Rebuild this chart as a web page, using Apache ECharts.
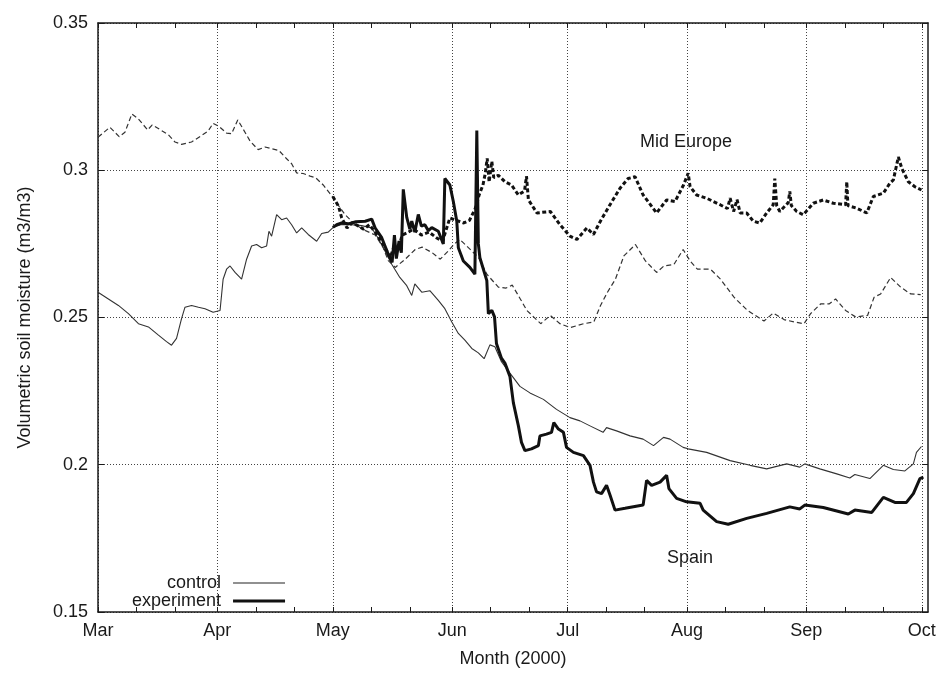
<!DOCTYPE html>
<html>
<head>
<meta charset="utf-8">
<style>
html,body{margin:0;padding:0;background:#fff;}
#chart{width:943px;height:673px;}
</style>
<script src="https://cdn.jsdelivr.net/npm/echarts@6.0.0/dist/echarts.min.js"></script>
</head>
<body>
<div id="chart"></div>
<script>
// ---- Data (day 0 = 1 March 2000) ----
const monthNames = ['Mar','Apr','May','Jun','Jul','Aug','Sep','Oct'];
const monthStartDays = [0,31,61,92,122,153,184,214];
const minorTickDays = [10,20,41,51,71,81,102,112,132,142,163,173,194,204];
const xMaxDay = 215.6;
const yMin = 0.15, yMax = 0.35, yStep = 0.05;

const midEuropeControl = [
[0,0.3112],[1.1,0.3124],[3.1,0.3146],[5.5,0.3114],[7,0.3129],[8.8,0.3191],[10.5,0.3174],[12.9,0.3137],[14.1,0.3154],[16.5,0.3135],[18.3,0.3120],[20,0.3096],[21.7,0.3088],[24.3,0.3096],[26.9,0.3118],[28.6,0.3133],[29.9,0.3159],[31.4,0.3149],[33.4,0.3126],[34.7,0.3124],[36.3,0.3171],[37.7,0.3140],[39.5,0.3099],[41.6,0.3070],[43.4,0.3079],[45.1,0.3073],[47,0.3067],[49,0.3039],[50.3,0.3022],[51.6,0.2991],[53.3,0.2989],[55.1,0.2980],[56.5,0.2975],[58.5,0.2950],[60.8,0.2912],[62.5,0.2880],[64.2,0.2849],[66.8,0.2815],[69.5,0.2795],[72,0.2780],[74,0.2740],[75.4,0.2693],[77.2,0.2670],[79.8,0.2698],[82.4,0.2731],[84.2,0.2739],[86.8,0.2720],[88.9,0.2698],[91,0.2726],[92.4,0.2748],[94,0.2765],[96,0.2740],[98.9,0.2703],[101,0.2647],[104,0.2603],[106,0.2600],[107.6,0.2610],[109.7,0.2563],[111.4,0.2524],[115,0.2479],[117.5,0.2507],[120,0.2479],[122.7,0.2466],[126.2,0.2479],[128.8,0.2485],[130.5,0.2540],[132.3,0.2585],[134.4,0.2630],[136.6,0.2709],[139.6,0.2748],[142.2,0.2692],[145.1,0.2653],[147,0.2675],[149.6,0.2680],[152,0.2731],[153.8,0.2692],[155.7,0.2664],[159.1,0.2664],[161.7,0.2630],[165.2,0.2569],[168.7,0.2524],[173,0.2488],[175.4,0.2515],[178.2,0.2493],[180.8,0.2485],[183.4,0.2479],[185.1,0.2513],[187.7,0.2546],[189.9,0.2546],[191.6,0.2563],[194.2,0.2524],[196.8,0.2502],[199.9,0.2507],[201.6,0.2569],[203.3,0.2580],[205.9,0.2636],[208.5,0.2603],[211.1,0.2580],[213.7,0.2578]
];

const midEuropeExperiment = [
[61,0.2911],[62.5,0.2877],[63.3,0.2838],[64.7,0.2804],[66,0.2822],[67.7,0.2810],[69,0.2800],[70.5,0.2815],[72,0.2790],[73.5,0.2760],[75,0.2726],[75.9,0.2703],[77,0.2745],[78,0.2730],[79,0.2780],[80.2,0.2787],[82,0.2800],[84,0.2780],[86,0.2790],[88,0.2770],[89.5,0.2759],[91.4,0.2838],[93,0.2830],[95,0.2821],[96.5,0.2830],[98,0.2870],[99,0.2916],[100,0.2950],[100.6,0.2990],[101.1,0.3040],[101.6,0.2960],[102.3,0.3030],[102.8,0.2975],[104,0.2983],[105.7,0.2961],[107.4,0.2950],[109.2,0.2916],[110.8,0.2930],[111.3,0.2980],[111.8,0.2900],[114,0.2855],[117.5,0.2860],[120,0.2815],[122.6,0.2776],[124.4,0.2765],[127,0.2804],[128.7,0.2782],[130.5,0.2827],[133,0.2883],[135.6,0.2939],[137.7,0.2972],[139.5,0.2978],[141.6,0.2916],[145.1,0.2855],[147.7,0.2899],[149.9,0.2894],[152.1,0.2950],[153.3,0.2990],[153.8,0.2944],[155.5,0.2916],[158.1,0.2905],[161.6,0.2883],[163.5,0.2870],[164.2,0.2905],[165.1,0.2860],[166,0.2900],[166.8,0.2855],[168.5,0.2855],[170.2,0.2827],[171.9,0.2821],[173.7,0.2855],[175.4,0.2883],[175.8,0.2972],[176.3,0.2880],[177.1,0.2860],[179.3,0.2890],[179.7,0.2928],[180.1,0.2880],[181.5,0.2860],[183.2,0.2849],[185.8,0.2888],[188.4,0.2899],[191,0.2888],[194.2,0.2883],[194.5,0.2961],[194.8,0.2880],[197.1,0.2871],[199.7,0.2855],[201.4,0.2911],[204,0.2922],[205.7,0.2956],[206.6,0.2967],[207.9,0.3045],[208.8,0.3006],[210.5,0.2961],[212.2,0.2944],[213.9,0.2933]
];

const spainControl = [
[0,0.2586],[2.7,0.2563],[5.3,0.2541],[7.9,0.2513],[10.5,0.2479],[13.1,0.2468],[15.7,0.2440],[17.8,0.2418],[19.1,0.2406],[20.4,0.2429],[21.7,0.2496],[22.6,0.2535],[24.3,0.2541],[26.1,0.2535],[27.8,0.2530],[29.9,0.2518],[31.7,0.2524],[32.5,0.2630],[33.4,0.2664],[34.3,0.2675],[35.6,0.2653],[37.3,0.2630],[38.6,0.2698],[39.9,0.2743],[41.2,0.2748],[42.5,0.2737],[43.8,0.2743],[44.4,0.2793],[45.1,0.2776],[46.4,0.2849],[47.7,0.2832],[49,0.2838],[50.3,0.2815],[51.6,0.2787],[52.9,0.2804],[54.6,0.2782],[56.8,0.2759],[58.1,0.2785],[59.8,0.2790],[61.1,0.2806],[63,0.2815],[65.9,0.2815],[68.5,0.2812],[71.1,0.2804],[72.5,0.2775],[74.1,0.2737],[76.3,0.2681],[78.4,0.2636],[80.2,0.2608],[81.5,0.2575],[82.3,0.2614],[84.1,0.2586],[86.2,0.2591],[88.4,0.2558],[90.1,0.2530],[91.9,0.2485],[93.6,0.2446],[95.3,0.2423],[97.1,0.2395],[98.8,0.2380],[100.3,0.2360],[101.8,0.2407],[103.1,0.2401],[104.8,0.2350],[107,0.2311],[109.6,0.2266],[112.2,0.2244],[115.7,0.2222],[119.1,0.2188],[122.6,0.2160],[125.2,0.2149],[127.8,0.2132],[131.2,0.2110],[132.1,0.2126],[134.7,0.2115],[138.2,0.2098],[141.6,0.2087],[144.3,0.2065],[146.9,0.2093],[148.6,0.2087],[152,0.2059],[153.3,0.2054],[158.1,0.2042],[164.2,0.2014],[169.4,0.1998],[173.7,0.1986],[178.9,0.2003],[182.3,0.1992],[183.6,0.2003],[187.5,0.1986],[191.9,0.1969],[195.3,0.1955],[196.6,0.1967],[200.5,0.1953],[204,0.1998],[206.6,0.1984],[209.6,0.1979],[211.8,0.2003],[212.6,0.2042],[213.9,0.2062]
];

const spainExperiment = [
[61,0.2806],[62,0.2815],[63.3,0.2821],[65,0.2818],[67,0.2825],[69.4,0.2827],[71.1,0.2834],[72,0.2804],[73.7,0.2771],[75.4,0.2715],[76.4,0.2687],[77,0.2780],[77.5,0.2700],[78.2,0.2760],[78.8,0.2720],[79.3,0.2935],[80.2,0.2840],[81,0.2800],[81.5,0.2827],[82.3,0.2790],[83.2,0.2850],[84,0.2810],[84.9,0.2815],[85.8,0.2795],[86.7,0.2805],[88.4,0.2793],[89.7,0.2750],[90.1,0.2972],[91.4,0.2950],[92.3,0.2894],[93.2,0.2827],[93.6,0.2737],[94.9,0.2692],[96.6,0.2670],[97.9,0.2647],[98.4,0.3135],[98.8,0.2750],[99.2,0.2703],[101,0.2625],[101.4,0.2513],[102.3,0.2524],[103,0.2502],[103.5,0.2412],[104.8,0.2362],[105.7,0.2345],[107,0.2300],[107.9,0.2210],[109.2,0.2132],[110,0.2076],[110.9,0.2048],[112.6,0.2054],[114.4,0.2065],[114.8,0.2098],[116.5,0.2104],[117.8,0.2110],[118.4,0.2143],[119.6,0.2121],[120.9,0.2110],[121.7,0.2059],[123.5,0.2042],[126.1,0.2031],[127.8,0.1998],[128.7,0.1941],[129.5,0.1908],[130.8,0.1902],[132.1,0.1930],[133,0.1897],[134.3,0.1846],[136.9,0.1852],[141.6,0.1863],[142.5,0.1947],[143.8,0.1930],[146,0.1941],[147.7,0.1964],[148.3,0.1919],[150.3,0.1886],[152.9,0.1874],[156.4,0.1869],[157.2,0.1846],[160.7,0.1807],[163.7,0.1798],[168.5,0.1818],[173.7,0.1835],[179.7,0.1857],[182.3,0.1850],[183.6,0.1863],[188.4,0.1855],[194.9,0.1833],[196.6,0.1846],[201,0.1838],[204,0.1889],[207,0.1872],[210,0.1872],[211.8,0.1902],[213.5,0.1953],[214.4,0.1958]
];

// ---- Chart ----
const FONT = '"Liberation Sans", Arial, Helvetica, sans-serif';
const INK = '#1a1a1a';
const chart = echarts.init(document.getElementById('chart'), null, {renderer: 'canvas'});

const frameLine = {show: true, onZero: false, lineStyle: {color: INK, width: 1.5}};
const gridLine = {show: true, lineStyle: {color: '#444', width: 1, type: [1, 2]}};

chart.setOption({
  animation: false,
  backgroundColor: '#fff',
  grid: {left: 98, right: 15, top: 23, bottom: 55, containLabel: false},
  legend: {
    data: [
      {name: 'control', lineStyle: {width: 1.2, color: '#222'}},
      {name: 'experiment', lineStyle: {width: 3.2, color: '#111'}}
    ],
    orient: 'vertical',
    left: 132,
    top: 574,
    padding: 0,
    align: 'right',
    itemWidth: 52,
    itemHeight: 14,
    itemGap: 0,
    selectedMode: false,
    itemStyle: {opacity: 0},
    textStyle: {fontSize: 18, lineHeight: 18, fontFamily: FONT, color: INK, padding: [0, 7, 0, 0]}
  },
  xAxis: [
    {
      type: 'value', position: 'bottom', min: 0, max: xMaxDay,
      name: 'Month (2000)', nameLocation: 'middle', nameGap: 38,
      nameTextStyle: {fontSize: 18, fontFamily: FONT, color: INK},
      axisLine: frameLine,
      axisTick: {show: true, inside: true, length: 5, customValues: monthStartDays, lineStyle: {color: INK}},
      axisLabel: {
        show: true, customValues: monthStartDays, margin: 10,
        fontSize: 18, fontFamily: FONT, color: INK,
        formatter: function (v) { return monthNames[monthStartDays.indexOf(v)]; }
      },
      splitLine: gridLine
    },
    {
      type: 'value', position: 'bottom', min: 0, max: xMaxDay,
      axisLine: {show: false, onZero: false},
      axisTick: {show: true, inside: true, length: 5, customValues: minorTickDays, lineStyle: {color: INK}},
      axisLabel: {show: false},
      splitLine: {show: false}
    },
    {
      type: 'value', position: 'top', min: 0, max: xMaxDay,
      axisLine: frameLine,
      axisTick: {show: true, inside: true, length: 5, customValues: monthStartDays.concat(minorTickDays), lineStyle: {color: INK}},
      axisLabel: {show: false},
      splitLine: {show: false}
    }
  ],
  yAxis: [
    {
      type: 'value', position: 'left', min: yMin, max: yMax, interval: yStep,
      name: 'Volumetric soil moisture (m3/m3)', nameLocation: 'middle', nameGap: 64,
      nameTextStyle: {fontSize: 18, fontFamily: FONT, color: INK},
      axisLine: frameLine,
      axisTick: {show: true, inside: true, length: 6, lineStyle: {color: INK}},
      axisLabel: {show: true, margin: 10, fontSize: 18, fontFamily: FONT, color: INK,
        formatter: function (v) { return String(+v.toFixed(2)); }},
      splitLine: gridLine
    },
    {
      type: 'value', position: 'right', min: yMin, max: yMax, interval: yStep,
      axisLine: frameLine,
      axisTick: {show: true, inside: true, length: 6, lineStyle: {color: INK}},
      axisLabel: {show: false},
      splitLine: {show: false}
    }
  ],
  series: [
    {name: 'Mid Europe control', type: 'line', data: midEuropeControl, symbol: 'none',
     lineStyle: {color: '#333', width: 1.2, type: [5, 3]}, z: 2},
    {name: 'control', type: 'line', data: spainControl, symbol: 'none',
     lineStyle: {color: '#333', width: 1.1, type: 'solid'}, itemStyle: {color: '#333'}, z: 2},
    {name: 'Mid Europe experiment', type: 'line', data: midEuropeExperiment, symbol: 'none',
     lineStyle: {color: '#111', width: 3, type: [4, 2.5]}, z: 3},
    {name: 'experiment', type: 'line', data: spainExperiment, symbol: 'none',
     lineStyle: {color: '#111', width: 3, type: 'solid'}, itemStyle: {color: '#111'}, z: 4}
  ],
  graphic: [
    {type: 'text', left: 640, top: 133, style: {text: 'Mid Europe', font: '18px ' + FONT, fill: INK}},
    {type: 'text', left: 667, top: 549, style: {text: 'Spain', font: '18px ' + FONT, fill: INK}}
  ]
});
</script>
</body>
</html>
